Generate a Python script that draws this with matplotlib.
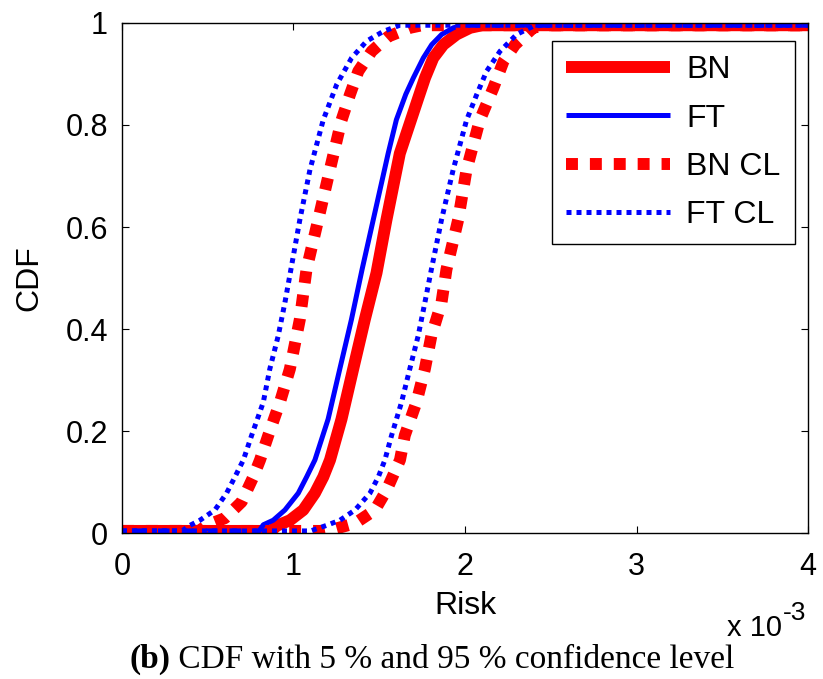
import matplotlib
matplotlib.use('Agg')
import matplotlib.pyplot as plt
from matplotlib.transforms import offset_copy

# risk values in units of 1e-3, CDF values
bn_x = [0, 0.87, 0.902, 0.980, 1.057, 1.125, 1.174, 1.213, 1.280, 1.348, 1.416, 1.484, 1.542,
        1.620, 1.728, 1.767, 1.815, 1.874, 1.951, 2.03, 2.10, 4.0]
bn_y = [0.005, 0.005, 0.015, 0.026, 0.046, 0.079, 0.111, 0.144, 0.224, 0.322, 0.419, 0.510, 0.614,
        0.744, 0.853, 0.892, 0.931, 0.957, 0.977, 0.990, 0.995, 0.995]

ft_x = [0, 0.80, 0.824, 0.882, 0.950, 1.028, 1.077, 1.125, 1.202, 1.270, 1.338, 1.40, 1.465,
        1.552, 1.60, 1.655, 1.699, 1.757, 1.806, 1.864, 1.932, 1.99, 4.0]
ft_y = [0.005, 0.005, 0.017, 0.026, 0.046, 0.079, 0.111, 0.144, 0.224, 0.322, 0.419, 0.517, 0.614,
        0.744, 0.81, 0.86, 0.892, 0.931, 0.957, 0.977, 0.990, 0.995, 0.995]

bn_cl_lo_x = [0, 0.45, 0.494, 0.60, 0.698, 0.766, 0.805, 0.853, 0.921, 0.979, 1.037, 1.076, 1.144,
              1.212, 1.280, 1.329, 1.378, 1.456, 1.553, 1.68, 1.75, 4.0]
bn_cl_lo_y = [0.005, 0.005, 0.016, 0.030, 0.062, 0.111, 0.144, 0.192, 0.257, 0.322, 0.419, 0.517, 0.614,
              0.712, 0.809, 0.859, 0.905, 0.944, 0.973, 0.990, 0.995, 0.995]
bn_cl_hi_x = [0, 1.18, 1.23, 1.359, 1.475, 1.543, 1.621, 1.649, 1.717, 1.766, 1.804, 1.863, 1.892,
              1.960, 2.009, 2.086, 2.165, 2.224, 2.292, 2.398, 2.47, 4.0]
bn_cl_hi_y = [0.005, 0.005, 0.008, 0.020, 0.046, 0.085, 0.144, 0.192, 0.257, 0.322, 0.387, 0.452, 0.517,
              0.614, 0.712, 0.809, 0.872, 0.924, 0.957, 0.990, 0.995, 0.995]

ft_cl_lo_x = [0, 0.35, 0.397, 0.455, 0.542, 0.610, 0.659, 0.708, 0.756, 0.824, 0.862, 0.911, 0.950,
              0.985, 1.037, 1.096, 1.173, 1.252, 1.339, 1.427, 1.524, 1.62, 4.0]
ft_cl_lo_y = [0.005, 0.005, 0.016, 0.026, 0.046, 0.079, 0.111, 0.144, 0.192, 0.257, 0.322, 0.387, 0.452,
              0.517, 0.614, 0.712, 0.809, 0.879, 0.931, 0.964, 0.983, 0.995, 0.995]
ft_cl_hi_x = [0, 1.10, 1.194, 1.271, 1.359, 1.446, 1.495, 1.533, 1.572, 1.630, 1.678, 1.727, 1.766,
              1.804, 1.863, 1.931, 2.009, 2.068, 2.126, 2.204, 2.301, 2.398, 2.45, 4.0]
ft_cl_hi_y = [0.005, 0.005, 0.016, 0.026, 0.046, 0.079, 0.111, 0.144, 0.192, 0.257, 0.322, 0.387, 0.452,
              0.517, 0.614, 0.712, 0.809, 0.859, 0.905, 0.944, 0.977, 0.993, 0.995, 0.995]

x_ticks = [0, 1, 2, 3, 4]
y_ticks = [0, 0.2, 0.4, 0.6, 0.8, 1]
y_tick_labels = ['0', '0.2', '0.4', '0.6', '0.8', '1']

plt.rcParams['font.family'] = ['Liberation Sans', 'DejaVu Sans']

fig = plt.figure(figsize=(8.23, 6.79), dpi=100)
ax = fig.add_axes([0.1482, 0.2143, 0.8336, 0.7523])

ax.plot(bn_x, bn_y, color='red', lw=8.6, label='BN', solid_capstyle='butt')
ax.plot(ft_x, ft_y, color='blue', lw=3.6, label='FT', solid_capstyle='butt')
ax.plot(bn_cl_lo_x, bn_cl_lo_y, color='red', lw=8.6, ls=(0, (1, 1)), dash_capstyle='butt', label='BN CL')
ax.plot(bn_cl_hi_x, bn_cl_hi_y, color='red', lw=8.6, ls=(0, (1, 1)), dash_capstyle='butt')
ax.plot(ft_cl_lo_x, ft_cl_lo_y, color='blue', lw=3.6, ls=(0, (1, 1)), dash_capstyle='butt', label='FT CL')
ax.plot(ft_cl_hi_x, ft_cl_hi_y, color='blue', lw=3.6, ls=(0, (1, 1)), dash_capstyle='butt')

ax.set_xlim(0, 4)
ax.set_ylim(0, 1)
ax.set_xticks(x_ticks)
ax.set_yticks(y_ticks)
ax.set_yticklabels(y_tick_labels)
ax.tick_params(direction='in', length=5, width=0.8, top=True, right=True, labelsize=22)
ax.tick_params(axis='x', pad=13)
ax.tick_params(axis='y', pad=10)
for s in ax.spines.values():
    s.set_linewidth(1.0)

ax.set_xlabel('Risk', fontsize=23, labelpad=7)
ax.set_ylabel('CDF', fontsize=23, labelpad=15)

# "x 10^-3" multiplier under the right end of the x axis
ax.text(0.962, -0.20, 'x 10', transform=ax.transAxes, ha='right', va='baseline', fontsize=21)
ax.text(0.962, -0.20, '-3', transform=offset_copy(ax.transAxes, fig=fig, x=1, y=11, units='points'),
        ha='left', va='baseline', fontsize=19)

leg = ax.legend(loc='upper right', bbox_to_anchor=(0.981, 0.964), borderaxespad=0,
                fontsize=23, handlelength=3.25, handletextpad=0.5, borderpad=0.45,
                labelspacing=0.57, fancybox=False, framealpha=1)
leg.get_frame().set_edgecolor('black')
leg.get_frame().set_linewidth(1.0)

# caption: bold "(b)" followed by normal text, centred as a whole
cap_y = 0.016
tb = fig.text(0, cap_y, '(b)', fontsize=24, family='Liberation Serif', weight='bold', va='baseline')
tr = fig.text(0, cap_y, ' CDF with 5 % and 95 % confidence level', fontsize=24,
              family='Liberation Serif', va='baseline')
r = fig.canvas.get_renderer()
wb = tb.get_window_extent(r).width
wr = tr.get_window_extent(r).width
x0 = 432 - (wb + wr) / 2
tb.set_x(x0 / fig.bbox.width)
tr.set_x((x0 + wb) / fig.bbox.width)

fig.savefig('out.png', dpi=100)
